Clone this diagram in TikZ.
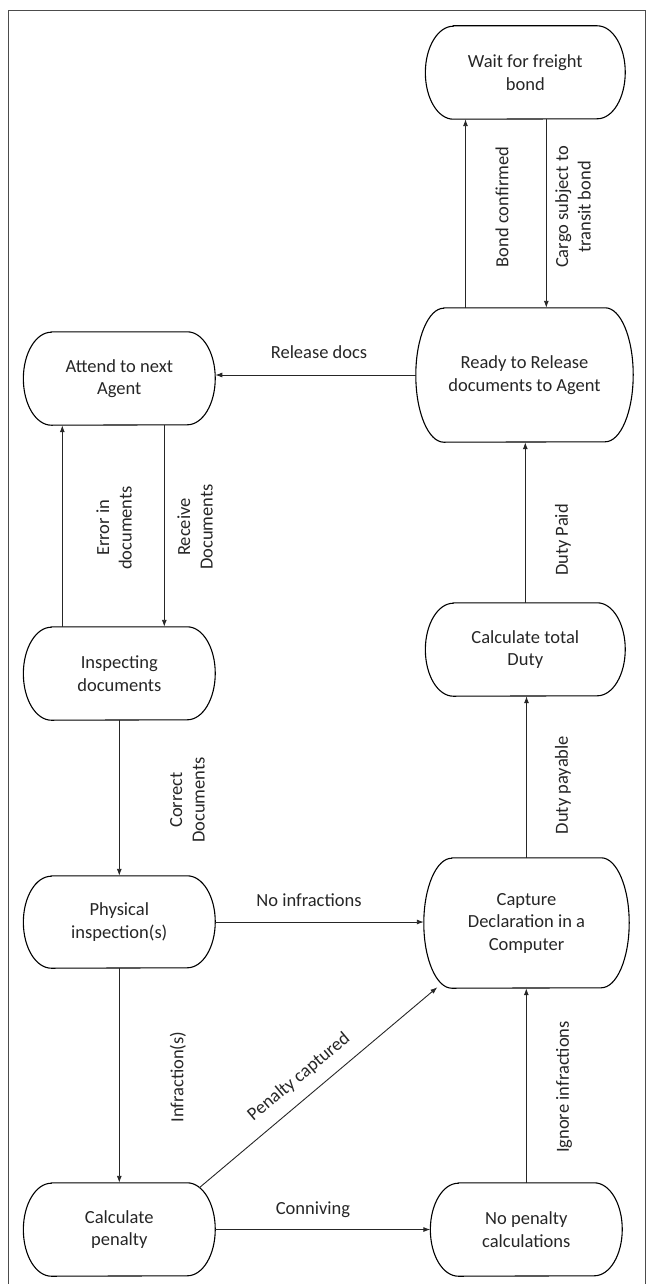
\documentclass[tikz,border=0pt]{standalone}
\usepackage{fontspec}
\setmainfont{Carlito}
\usetikzlibrary{arrows.meta}
\newcommand\rr{28pt}
\newcommand\stbox[6]{%
  \node[stnode, minimum width=#4pt, minimum height=#5pt] (#1) at (#2,#3) {#6};
  \draw[stline] ([xshift=\rr]#1.north west) -- ([xshift=-\rr]#1.north east)
    arc[start angle=90, end angle=-90, x radius=\rr, y radius={#5*0.5pt}]
    -- ([xshift=\rr]#1.south west)
    arc[start angle=270, end angle=90, x radius=\rr, y radius={#5*0.5pt}] -- cycle;}
\tikzset{
  txt/.style={font=\fontsize{18.5}{22.5}\selectfont, text=black!85},
  stnode/.style={txt, draw=none, inner sep=0pt, align=center},
  stline/.style={draw=black, line width=1.1pt},
  arr/.style={draw=black!85, line width=0.9pt, -{Latex[length=7pt,width=5pt]}},
  lab/.style={txt, inner sep=0pt, align=center},
  vlab/.style={lab, rotate=90},
  frame/.style={draw=black!70, line width=1pt}
}
\begin{document}
\begin{tikzpicture}[x=1pt, y=-1pt]
\useasboundingbox (0,0) rectangle (646,1284);
\draw[frame] (8,1284) -- (8,11) -- (645.5,11) -- (645.5,1284);

\stbox{wait}{525.3}{72.5}{199.5}{93}{Wait for freight\\bond}
\stbox{ready}{524.5}{375}{217}{134}{Ready to Release\\documents to Agent}
\stbox{attend}{119.3}{378.5}{191.5}{93}{Attend to next\\Agent}
\stbox{insp}{119.3}{673.5}{191.5}{93}{Inspecting\\documents}
\stbox{duty}{525.3}{649.5}{199.5}{93}{Calculate total\\Duty}
\stbox{phys}{119.3}{922}{191.5}{92}{Physical\\inspection(s)}
\stbox{cap}{526.5}{923}{205}{130}{Capture\\Declaration in a\\Computer}
\stbox{cp}{119.3}{1229.5}{191.5}{93}{Calculate\\penalty}
\stbox{np}{526.3}{1229.5}{191.5}{93}{No penalty\\calculations}

\draw[arr] ([xshift=-59pt]ready.north) -- ([xshift=-59pt]ready.north |- wait.south);
\draw[arr] ([xshift=21pt]wait.south) -- ([xshift=21pt]wait.south |- ready.north);
\draw[arr] (ready.west) -- (ready.west -| attend.east);
\draw[arr] ([xshift=-57pt]insp.north) -- ([xshift=-57pt]insp.north |- attend.south);
\draw[arr] ([xshift=45pt]attend.south) -- ([xshift=45pt]attend.south |- insp.north);
\draw[arr] (duty.north) -- (duty.north |- ready.south);
\draw[arr] (insp.south) -- (phys.north);
\draw[arr] (cap.north) -- (cap.north |- duty.south);
\draw[arr] (phys.east) -- (phys.east -| cap.west);
\draw[arr] (phys.south) -- (cp.north);
\draw[arr] ([xshift=-16pt,yshift=-5pt]cp.north east) -- ([xshift=13.6pt,yshift=1pt]cap.south west);
\draw[arr] (cp.east) -- (np.west);
\draw[arr] (np.north) -- (np.north |- cap.south);

\node[vlab] (lbond) at (502,207) {Bond confirmed};
\node[vlab] (lcargo) at (573,207) {Cargo subject to\\transit bond};
\node[lab] (lrel) at (319,352) {Release docs};
\node[vlab] (lerr) at (114,528) {Error in\\documents};
\node[vlab] (lrec) at (195,527) {Receive\\Documents};
\node[vlab] (lpaid) at (563,540) {Duty Paid};
\node[vlab] (lcorr) at (187.5,800) {Correct\\Documents};
\node[vlab] (lpayable) at (563,785) {Duty payable};
\node[lab] (lnoinf) at (309,900) {No infractions};
\node[vlab] (linf) at (178,1077) {Infraction(s)};
\node[lab, rotate=40] (lpen) at (299,1077) {Penalty captured};
\node[lab] (lconn) at (313,1210) {Conniving};
\node[vlab] (lign) at (564,1087) {Ignore infractions};
\end{tikzpicture}
\end{document}
